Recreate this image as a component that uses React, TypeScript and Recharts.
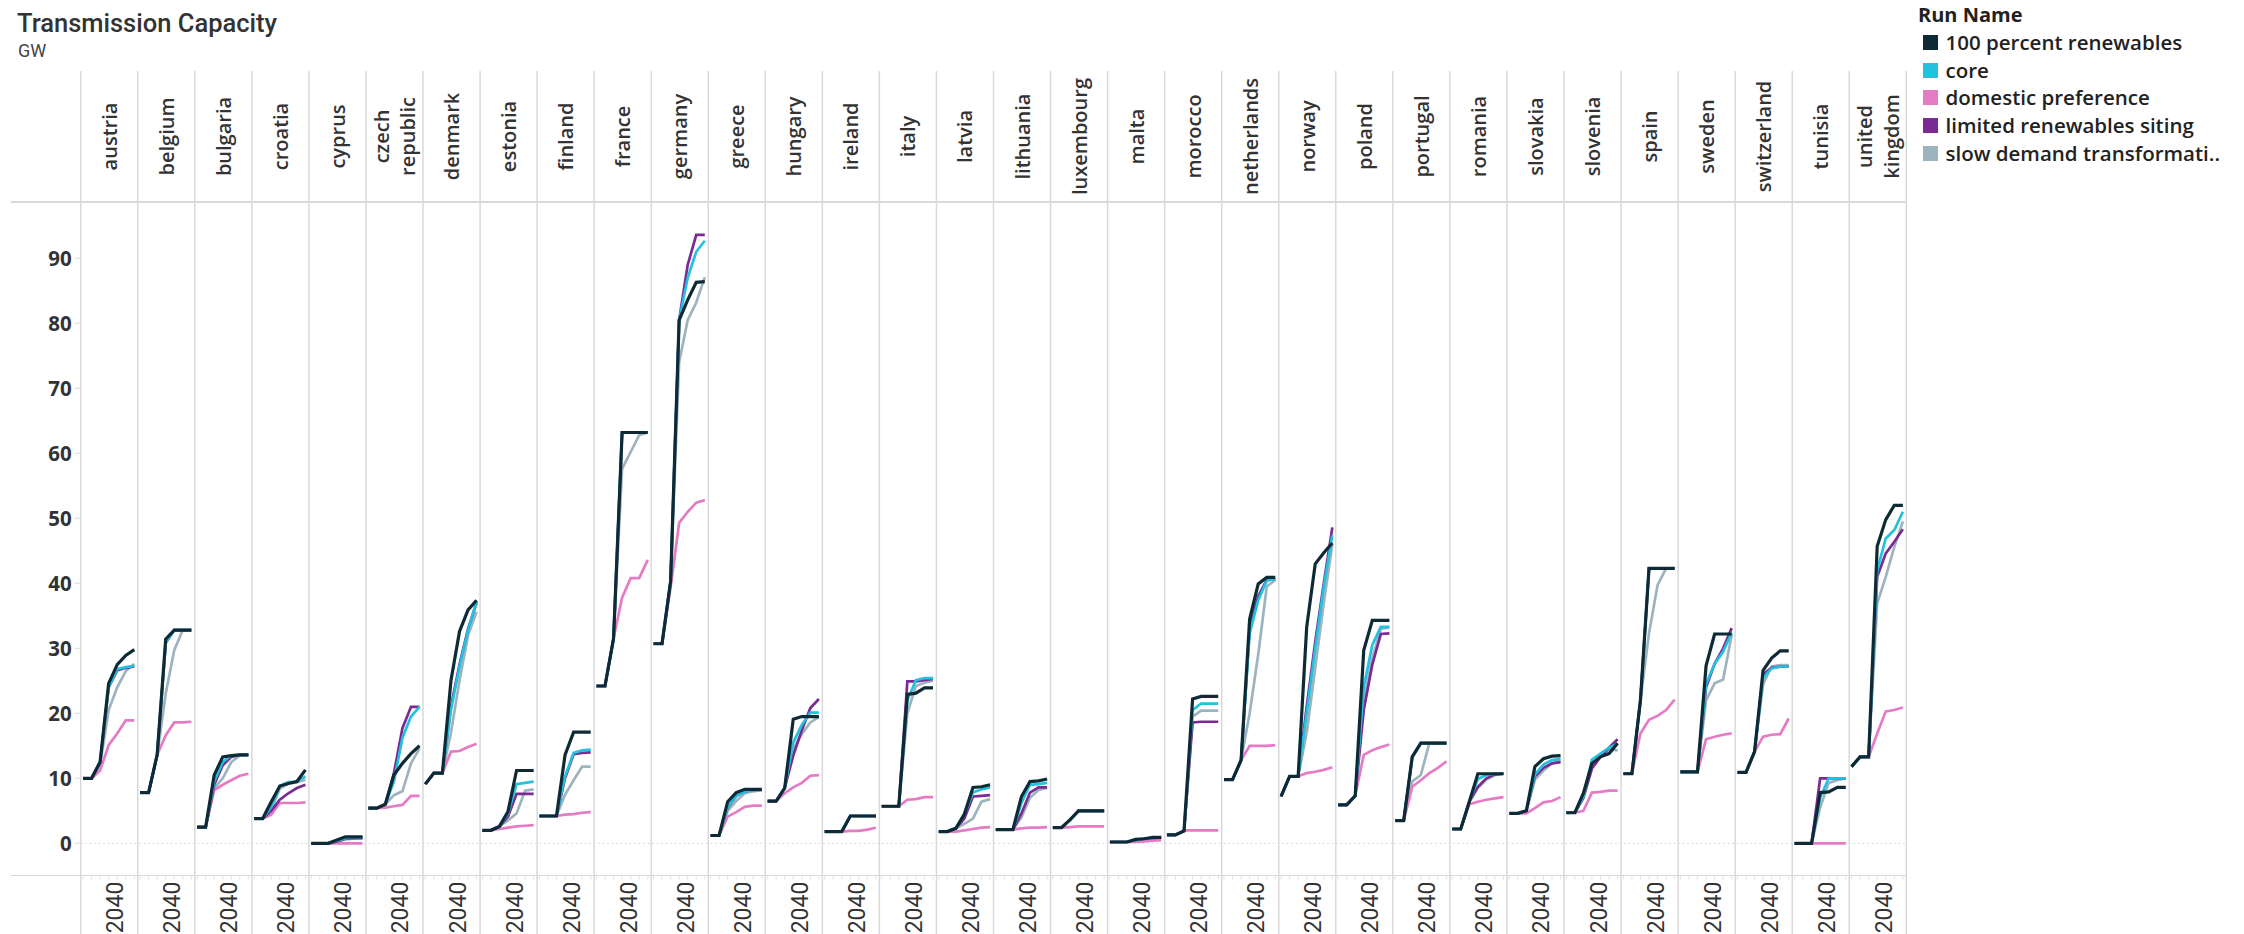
import { LineChart, Line, XAxis, YAxis, ReferenceLine } from 'recharts';

const years = [2020, 2025, 2030, 2035, 2040, 2045, 2050];

const countries = [
  'austria', 'belgium', 'bulgaria', 'croatia', 'cyprus', 'czech republic', 'denmark', 'estonia',
  'finland', 'france', 'germany', 'greece', 'hungary', 'ireland', 'italy', 'latvia',
  'lithuania', 'luxembourg', 'malta', 'morocco', 'netherlands', 'norway', 'poland', 'portugal',
  'romania', 'slovakia', 'slovenia', 'spain', 'sweden', 'switzerland', 'tunisia', 'united kingdom',
];

const runNames = ['100 percent renewables', 'core', 'domestic preference', 'limited renewables siting', 'slow demand transformation'];
const legendLabels = ['100 percent renewables', 'core', 'domestic preference', 'limited renewables siting', 'slow demand transformati..'];
const runColors = ['#0d2a35', '#22c1de', '#e57bc5', '#7b2a94', '#9db4bf'];

// GW per country, one row per country in `countries` order, one value per year
const renewables100 = [
  [10, 10, 12.5, 24.6, 27.5, 28.9, 29.8],
  [7.8, 7.8, 13.6, 31.4, 32.8, 32.8, 32.8],
  [2.5, 2.5, 10.5, 13.3, 13.5, 13.6, 13.6],
  [3.8, 3.8, 6.4, 8.8, 9.2, 9.5, 11.3],
  [0, 0, 0, 0.5, 1.0, 1.0, 1.0],
  [5.4, 5.4, 6.0, 10.5, 12.3, 13.8, 15.0],
  [9.1, 10.8, 10.8, 25.0, 32.6, 35.9, 37.4],
  [2.0, 2.0, 2.6, 4.9, 11.2, 11.2, 11.2],
  [4.2, 4.2, 4.2, 13.6, 17.1, 17.1, 17.1],
  [24.2, 24.2, 31.5, 63.2, 63.2, 63.2, 63.2],
  [30.7, 30.7, 40.3, 80.5, 83.6, 86.3, 86.4],
  [1.2, 1.2, 6.4, 7.8, 8.3, 8.3, 8.3],
  [6.5, 6.5, 8.5, 19.1, 19.5, 19.5, 19.5],
  [1.8, 1.8, 1.8, 4.2, 4.2, 4.2, 4.2],
  [5.7, 5.7, 5.7, 22.9, 23.1, 23.9, 23.9],
  [1.8, 1.8, 2.3, 4.5, 8.6, 8.7, 9.0],
  [2.1, 2.1, 2.1, 7.2, 9.5, 9.6, 9.9],
  [2.4, 2.4, 3.6, 5.0, 5.0, 5.0, 5.0],
  [0.2, 0.2, 0.2, 0.6, 0.7, 0.9, 0.9],
  [1.3, 1.3, 1.9, 22.2, 22.6, 22.6, 22.6],
  [9.8, 9.8, 12.8, 34.5, 39.9, 40.9, 40.9],
  [7.2, 10.3, 10.3, 33.3, 43.0, 44.7, 46.2],
  [5.9, 5.9, 7.3, 29.7, 34.3, 34.3, 34.3],
  [3.5, 3.5, 13.3, 15.4, 15.4, 15.4, 15.4],
  [2.2, 2.2, 6.4, 10.7, 10.7, 10.7, 10.7],
  [4.6, 4.6, 5.0, 11.8, 13.0, 13.4, 13.5],
  [4.7, 4.7, 7.7, 12.3, 13.3, 13.8, 15.4],
  [10.7, 10.7, 22.0, 42.3, 42.3, 42.3, 42.3],
  [11.0, 11.0, 11.0, 27.3, 32.2, 32.2, 32.2],
  [10.9, 10.9, 14.1, 26.6, 28.5, 29.6, 29.6],
  [0, 0, 0, 7.8, 7.9, 8.6, 8.6],
  [11.8, 13.3, 13.3, 45.7, 49.8, 52.0, 52.0],
];

const core = [
  [10, 10, 12.5, 24.0, 26.8, 27.1, 27.3],
  [7.8, 7.8, 13.6, 30.8, 32.8, 32.8, 32.8],
  [2.5, 2.5, 9.5, 12.5, 13.5, 13.6, 13.6],
  [3.8, 3.8, 5.6, 8.8, 9.4, 9.5, 10.3],
  [0, 0, 0, 0.4, 0.8, 0.9, 0.9],
  [5.4, 5.4, 6.0, 9.5, 16.2, 19.5, 21.0],
  [9.1, 10.8, 10.8, 20.5, 27.2, 32.8, 37.2],
  [2.0, 2.0, 2.6, 4.6, 9.1, 9.3, 9.5],
  [4.2, 4.2, 4.2, 10.3, 13.9, 14.3, 14.4],
  [24.2, 24.2, 31.5, 63.2, 63.2, 63.2, 63.2],
  [30.7, 30.7, 40.3, 80.5, 87.0, 91.0, 92.7],
  [1.2, 1.2, 5.6, 7.3, 8.0, 8.2, 8.2],
  [6.5, 6.5, 8.5, 15.5, 18.2, 20.1, 20.1],
  [1.8, 1.8, 1.8, 4.2, 4.2, 4.2, 4.2],
  [5.7, 5.7, 5.7, 22.0, 25.1, 25.4, 25.4],
  [1.8, 1.8, 2.3, 4.5, 7.8, 8.3, 8.6],
  [2.1, 2.1, 2.1, 6.2, 9.0, 9.1, 9.3],
  [2.4, 2.4, 3.6, 5.0, 5.0, 5.0, 5.0],
  [0.2, 0.2, 0.2, 0.5, 0.7, 0.8, 0.9],
  [1.3, 1.3, 1.9, 20.5, 21.5, 21.5, 21.5],
  [9.8, 9.8, 12.8, 32.3, 37.4, 40.4, 40.7],
  [7.2, 10.3, 10.3, 20.0, 30.0, 39.5, 47.4],
  [5.9, 5.9, 7.3, 24.0, 30.5, 33.3, 33.3],
  [3.5, 3.5, 13.3, 15.4, 15.4, 15.4, 15.4],
  [2.2, 2.2, 6.4, 9.9, 10.5, 10.7, 10.7],
  [4.6, 4.6, 5.0, 10.6, 12.1, 12.8, 13.0],
  [4.7, 4.7, 7.2, 12.9, 13.8, 14.7, 15.3],
  [10.7, 10.7, 22.0, 42.3, 42.3, 42.3, 42.3],
  [11.0, 11.0, 11.0, 24.5, 27.6, 29.5, 32.4],
  [10.9, 10.9, 14.1, 25.5, 26.9, 27.2, 27.2],
  [0, 0, 0, 7.0, 10.0, 10.0, 10.0],
  [11.8, 13.3, 13.3, 42.0, 46.9, 48.2, 51.0],
];

const domesticPreference = [
  [10, 10, 11.2, 15.1, 16.9, 18.9, 18.9],
  [7.8, 7.8, 13.6, 16.6, 18.6, 18.6, 18.7],
  [2.5, 2.5, 8.2, 9.0, 9.7, 10.4, 10.7],
  [3.8, 3.8, 4.4, 6.2, 6.2, 6.2, 6.3],
  [0, 0, 0, 0, 0, 0, 0],
  [5.4, 5.4, 5.5, 5.7, 5.9, 7.3, 7.3],
  [9.1, 10.8, 10.8, 14.1, 14.2, 14.8, 15.3],
  [2.0, 2.0, 2.2, 2.4, 2.6, 2.7, 2.8],
  [4.2, 4.2, 4.2, 4.4, 4.5, 4.7, 4.8],
  [24.2, 24.2, 31.5, 37.8, 40.8, 40.8, 43.6],
  [30.7, 30.7, 39.4, 49.3, 51.0, 52.4, 52.8],
  [1.2, 1.2, 4.1, 4.8, 5.6, 5.8, 5.8],
  [6.5, 6.5, 7.7, 8.6, 9.3, 10.4, 10.5],
  [1.8, 1.8, 1.8, 1.9, 1.9, 2.1, 2.4],
  [5.7, 5.7, 5.7, 6.7, 6.8, 7.1, 7.1],
  [1.8, 1.8, 1.8, 2.0, 2.2, 2.4, 2.5],
  [2.1, 2.1, 2.1, 2.3, 2.4, 2.4, 2.5],
  [2.4, 2.4, 2.5, 2.6, 2.6, 2.6, 2.6],
  [0.2, 0.2, 0.2, 0.2, 0.3, 0.4, 0.5],
  [1.3, 1.3, 2.0, 2.0, 2.0, 2.0, 2.0],
  [9.8, 9.8, 12.8, 15.0, 15.0, 15.0, 15.1],
  [7.2, 10.3, 10.3, 10.8, 11.0, 11.3, 11.7],
  [5.9, 5.9, 7.3, 13.6, 14.3, 14.8, 15.2],
  [3.5, 3.5, 8.7, 9.7, 10.8, 11.6, 12.6],
  [2.2, 2.2, 6.0, 6.4, 6.7, 6.9, 7.1],
  [4.6, 4.6, 4.6, 5.4, 6.3, 6.5, 7.1],
  [4.7, 4.7, 5.0, 7.8, 7.9, 8.1, 8.1],
  [10.7, 10.7, 16.9, 19.0, 19.6, 20.5, 22.1],
  [11.0, 11.0, 11.0, 16.0, 16.4, 16.7, 16.9],
  [10.9, 10.9, 14.1, 16.4, 16.7, 16.8, 19.2],
  [0, 0, 0, 0, 0, 0, 0],
  [11.8, 13.3, 13.3, 16.9, 20.3, 20.5, 20.9],
];

const limitedSiting = [
  [10, 10, 12.5, 24.0, 26.6, 27.0, 27.2],
  [7.8, 7.8, 13.6, 30.8, 32.8, 32.8, 32.8],
  [2.5, 2.5, 9.0, 12.0, 13.3, 13.6, 13.6],
  [3.8, 3.8, 5.0, 6.7, 7.7, 8.5, 9.0],
  [0, 0, 0, 0.3, 0.7, 0.8, 0.8],
  [5.4, 5.4, 6.0, 10.8, 17.7, 21.0, 21.0],
  [9.1, 10.8, 10.8, 21.0, 27.5, 33.0, 37.0],
  [2.0, 2.0, 2.6, 4.1, 7.6, 7.6, 7.6],
  [4.2, 4.2, 4.2, 10.0, 13.7, 13.9, 14.0],
  [24.2, 24.2, 31.5, 63.2, 63.2, 63.2, 63.2],
  [30.7, 30.7, 40.3, 80.5, 89.0, 93.6, 93.6],
  [1.2, 1.2, 5.5, 7.3, 8.0, 8.2, 8.2],
  [6.5, 6.5, 8.5, 13.5, 17.4, 20.8, 22.2],
  [1.8, 1.8, 1.8, 4.2, 4.2, 4.2, 4.2],
  [5.7, 5.7, 5.7, 24.9, 24.9, 25.1, 25.3],
  [1.8, 1.8, 2.3, 3.8, 7.2, 7.3, 7.4],
  [2.1, 2.1, 2.1, 4.6, 7.8, 8.6, 8.6],
  [2.4, 2.4, 3.6, 5.0, 5.0, 5.0, 5.0],
  [0.2, 0.2, 0.2, 0.5, 0.7, 0.8, 0.9],
  [1.3, 1.3, 1.9, 18.6, 18.7, 18.7, 18.7],
  [9.8, 9.8, 12.8, 33.0, 38.0, 40.5, 40.7],
  [7.2, 10.3, 10.3, 21.0, 31.0, 40.0, 48.6],
  [5.9, 5.9, 7.3, 20.5, 27.5, 32.2, 32.3],
  [3.5, 3.5, 13.3, 15.4, 15.4, 15.4, 15.4],
  [2.2, 2.2, 6.4, 8.7, 10.0, 10.6, 10.7],
  [4.6, 4.6, 5.0, 10.3, 11.6, 12.3, 12.5],
  [4.7, 4.7, 7.0, 11.5, 13.3, 14.7, 16.0],
  [10.7, 10.7, 22.0, 42.3, 42.3, 42.3, 42.3],
  [11.0, 11.0, 11.0, 24.0, 27.6, 30.0, 33.1],
  [10.9, 10.9, 14.1, 26.0, 27.0, 27.2, 27.2],
  [0, 0, 0, 10.0, 10.0, 10.0, 10.0],
  [11.8, 13.3, 13.3, 41.0, 44.6, 46.4, 48.3],
];

const slowDemand = [
  [10, 10, 12.0, 20.5, 24.0, 26.5, 27.6],
  [7.8, 7.8, 13.6, 23.0, 29.7, 32.8, 32.8],
  [2.5, 2.5, 8.5, 10.0, 12.5, 13.5, 13.6],
  [3.8, 3.8, 5.2, 8.4, 9.2, 9.4, 9.8],
  [0, 0, 0, 0.3, 0.6, 0.7, 0.8],
  [5.4, 5.4, 6.0, 7.4, 8.0, 12.3, 14.6],
  [9.1, 10.8, 10.8, 17.0, 25.0, 32.0, 35.6],
  [2.0, 2.0, 2.6, 3.5, 4.6, 8.1, 8.3],
  [4.2, 4.2, 4.2, 7.5, 9.7, 11.8, 11.8],
  [24.2, 24.2, 31.5, 57.6, 60.2, 62.8, 63.2],
  [30.7, 30.7, 40.3, 74.0, 80.5, 83.2, 87.1],
  [1.2, 1.2, 5.0, 6.5, 7.7, 8.0, 8.2],
  [6.5, 6.5, 8.5, 14.5, 16.8, 18.6, 19.4],
  [1.8, 1.8, 1.8, 4.2, 4.2, 4.2, 4.2],
  [5.7, 5.7, 5.7, 20.0, 24.2, 24.7, 25.0],
  [1.8, 1.8, 2.3, 3.0, 3.8, 6.4, 6.8],
  [2.1, 2.1, 2.1, 4.0, 7.0, 8.2, 8.5],
  [2.4, 2.4, 3.6, 5.0, 5.0, 5.0, 5.0],
  [0.2, 0.2, 0.2, 0.5, 0.7, 0.8, 0.9],
  [1.3, 1.3, 1.9, 19.5, 20.4, 20.4, 20.4],
  [9.8, 9.8, 12.8, 20.0, 29.0, 39.5, 40.5],
  [7.2, 10.3, 10.3, 17.0, 27.0, 37.0, 46.0],
  [5.9, 5.9, 7.3, 22.0, 28.5, 33.0, 33.2],
  [3.5, 3.5, 9.5, 10.5, 15.4, 15.4, 15.4],
  [2.2, 2.2, 6.4, 8.5, 9.8, 10.5, 10.7],
  [4.6, 4.6, 5.0, 9.8, 11.2, 12.3, 12.7],
  [4.7, 4.7, 7.0, 12.0, 13.3, 14.5, 14.3],
  [10.7, 10.7, 22.0, 32.3, 39.7, 42.3, 42.3],
  [11.0, 11.0, 11.0, 22.0, 24.6, 25.2, 32.1],
  [10.9, 10.9, 14.1, 24.5, 27.2, 27.4, 27.4],
  [0, 0, 0, 5.5, 9.3, 9.7, 10.0],
  [11.8, 13.3, 13.3, 36.9, 41.0, 45.6, 49.5],
];

const yTicks = [0, 10, 20, 30, 40, 50, 60, 70, 80, 90];
const labelYear = 2040;

// layout (page pixels)
const W = 2244;
const H = 934;
const HEADER_TOP = 71;
const PLOT_TOP = 202;
const PLOT_BOTTOM = 875.6;
const PLOT_LEFT = 80.7;
const PLOT_RIGHT = 1906.3;
const PANEL_PX = (PLOT_RIGHT - PLOT_LEFT) / countries.length;
const PX_PER_YEAR = 1.71;
const SPAN = PANEL_PX / PX_PER_YEAR; // x units (years) per panel
const LEAD = 2.3 / PX_PER_YEAR;

const seriesKeys = ['r100', 'core', 'domestic', 'limited', 'slow'];
const seriesValues = [renewables100, core, domesticPreference, limitedSiting, slowDemand];
const drawOrder = [4, 2, 3, 1, 0];

const rows: any[] = [];
countries.forEach((_, i) => {
  years.forEach((yr, j) => {
    const row: any = { x: i * SPAN + LEAD + (yr - years[0]) };
    seriesKeys.forEach((k, s) => { row[k] = seriesValues[s][i][j]; });
    rows.push(row);
  });
  const gap: any = { x: (i + 1) * SPAN - 0.01 };
  seriesKeys.forEach((k) => { gap[k] = null; });
  rows.push(gap);
});

const panelCenters = countries.map((_, i) => (i + 0.5) * SPAN);
const yearTicks: number[] = [];
countries.forEach((_, i) => years.forEach((yr) => yearTicks.push(i * SPAN + LEAD + (yr - years[0]))));

const labelFont = "'Open Sans', sans-serif";
const divider = '#d9d9d9';

function HeaderTick(props: any) {
  const { x, payload } = props;
  const i = Math.round(payload.value / SPAN - 0.5);
  const name = countries[i] ?? '';
  const lines = name.includes(' ') ? name.split(' ') : [name];
  const left = x - PANEL_PX / 2;
  const right = x + PANEL_PX / 2;
  const mid = (HEADER_TOP + PLOT_TOP) / 2;
  return (
    <g>
      <line x1={left} x2={left} y1={HEADER_TOP} y2={H} stroke={divider} strokeWidth={1.5} />
      {i === countries.length - 1 && (
        <line x1={right} x2={right} y1={HEADER_TOP} y2={H} stroke={divider} strokeWidth={1.5} />
      )}
      <text
        transform={`translate(${x},${mid}) rotate(-90)`}
        textAnchor="middle"
        fontFamily={labelFont}
        fontWeight={600}
        fontSize={20}
        fill="#333"
      >
        {lines.map((ln, k) => (
          <tspan key={k} x={0} y={(k - (lines.length - 1) / 2) * 26.8} dominantBaseline="central">
            {ln}
          </tspan>
        ))}
      </text>
    </g>
  );
}

function YearTick(props: any) {
  const { x, payload } = props;
  const i = Math.floor(payload.value / SPAN);
  const yr = Math.round(payload.value - i * SPAN - LEAD) + years[0];
  return (
    <g>
      <line x1={x} x2={x} y1={PLOT_BOTTOM} y2={PLOT_BOTTOM + 4} stroke="#e3e3e3" />
      {yr === labelYear && (
        <text
          transform={`translate(${x - 1.5},${PLOT_BOTTOM + 6}) rotate(-90)`}
          textAnchor="end"
          dominantBaseline="central"
          fontFamily="Roboto, sans-serif"
          fontSize={23}
          fill="#333"
        >
          {yr}
        </text>
      )}
    </g>
  );
}

export default function App() {
  return (
    <div style={{ position: 'absolute', left: 0, top: 0, width: W, height: H, background: '#fff', overflow: 'hidden' }}>
      <div style={{ position: 'absolute', left: 17, top: 10.5, fontFamily: 'Roboto, sans-serif', fontWeight: 500, fontSize: 25.5, lineHeight: '25.5px', color: '#333', whiteSpace: 'nowrap' }}>
        Transmission Capacity
      </div>
      <div style={{ position: 'absolute', left: 18, top: 42, fontFamily: 'Roboto, sans-serif', fontSize: 18, lineHeight: '18px', color: '#444' }}>
        GW
      </div>

      <div style={{ position: 'absolute', left: 1918, top: 5, fontFamily: labelFont, fontWeight: 700, fontSize: 20, lineHeight: '20px', color: '#222', whiteSpace: 'nowrap' }}>
        Run Name
      </div>
      {legendLabels.map((lab, k) => (
        <div key={lab} style={{ position: 'absolute', left: 1923, top: 35.2 + k * 27.6, height: 15, display: 'flex', alignItems: 'center', whiteSpace: 'nowrap' }}>
          <div style={{ width: 15, height: 15, background: runColors[k] }} />
          <div style={{ marginLeft: 7.5, fontFamily: labelFont, fontWeight: 600, fontSize: 20.5, lineHeight: '15px', color: '#222' }}>{lab}</div>
        </div>
      ))}

      <div style={{ position: 'absolute', left: 11, top: PLOT_TOP - 1, width: PLOT_RIGHT - 11, height: 1.5, background: divider }} />
      <div style={{ position: 'absolute', left: 11, top: PLOT_BOTTOM - 1, width: PLOT_RIGHT - 11, height: 1.5, background: divider }} />

      <div style={{ position: 'absolute', left: 0, top: 0 }}>
        <LineChart
          width={W}
          height={H}
          data={rows}
          margin={{ top: HEADER_TOP, right: W - PLOT_RIGHT, bottom: 0, left: 0 }}
        >
          <XAxis
            xAxisId="head"
            orientation="top"
            dataKey="x"
            type="number"
            domain={[0, SPAN * countries.length]}
            allowDataOverflow
            ticks={panelCenters}
            interval={0}
            height={PLOT_TOP - HEADER_TOP}
            axisLine={false}
            tickLine={false}
            tick={HeaderTick}
          />
          <XAxis
            xAxisId="yr"
            dataKey="x"
            type="number"
            domain={[0, SPAN * countries.length]}
            allowDataOverflow
            ticks={yearTicks}
            interval={0}
            height={H - PLOT_BOTTOM}
            axisLine={false}
            tickLine={false}
            tick={YearTick}
          />
          <YAxis
            type="number"
            domain={[-4.97, 98.66]}
            allowDataOverflow
            ticks={yTicks}
            interval={0}
            width={PLOT_LEFT}
            axisLine={false}
            tickLine={{ stroke: '#dcdcdc' }}
            tickSize={6}
            tickMargin={3}
            tick={{ fontFamily: labelFont, fontWeight: 700, fontSize: 20.5, fill: '#333' }}
          />
          <ReferenceLine xAxisId="yr" y={0} stroke="#cfcfcf" strokeDasharray="1.5 3" />
          {drawOrder.map((s) => (
            <Line
              key={seriesKeys[s]}
              xAxisId="yr"
              name={runNames[s]}
              dataKey={seriesKeys[s]}
              type="linear"
              stroke={runColors[s]}
              strokeWidth={s === 0 ? 3.2 : 2.7}
              dot={false}
              activeDot={false}
              connectNulls={false}
              isAnimationActive={false}
            />
          ))}
        </LineChart>
      </div>
    </div>
  );
}
